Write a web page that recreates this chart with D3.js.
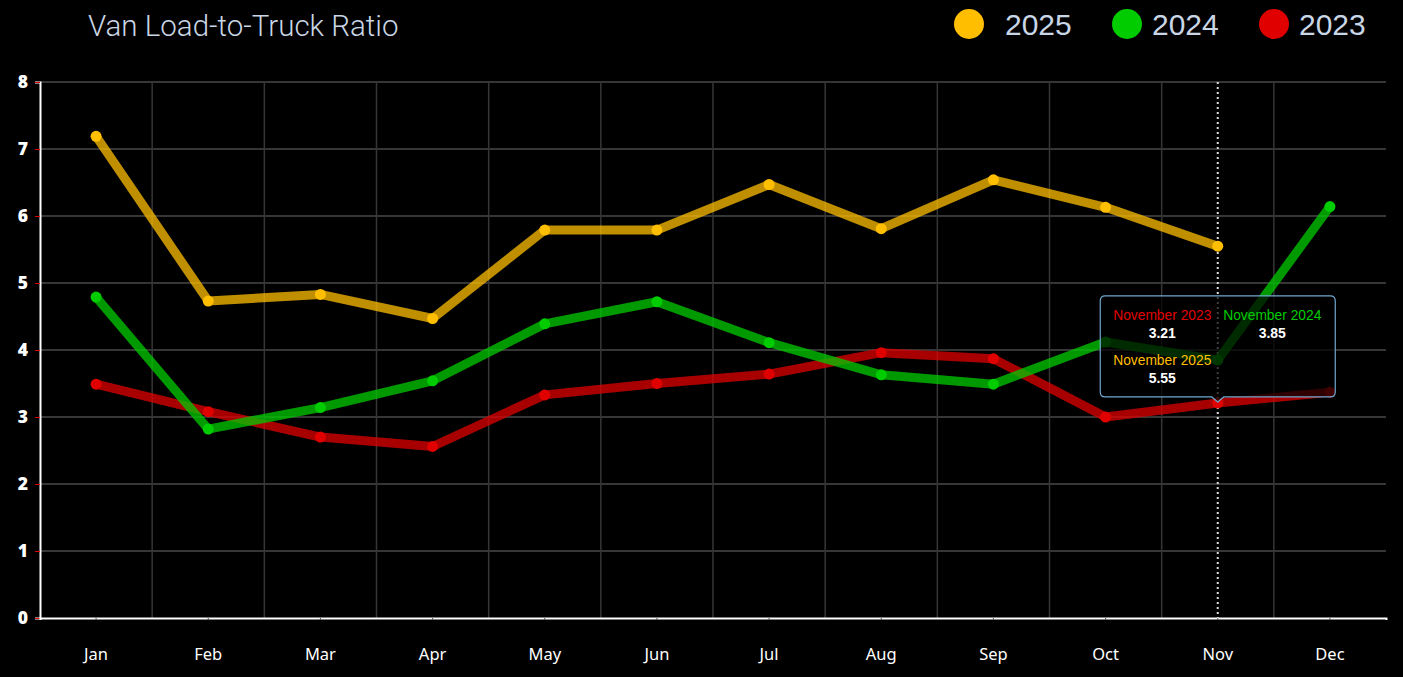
<!DOCTYPE html>
<html>
<head>
<meta charset="utf-8">
<script src="https://cdn.jsdelivr.net/npm/d3@7"></script>
<style>
  html, body { margin: 0; padding: 0; background: #000; }
  svg { display: block; }
</style>
</head>
<body>
<div id="chart"></div>
<script>
// chart data
var months = ["Jan", "Feb", "Mar", "Apr", "May", "Jun", "Jul", "Aug", "Sep", "Oct", "Nov", "Dec"];
var monthNames = ["January", "February", "March", "April", "May", "June", "July", "August", "September", "October", "November", "December"];
var values2025 = [7.19, 4.73, 4.83, 4.47, 5.79, 5.79, 6.47, 5.81, 6.54, 6.13, 5.55, null];
var values2024 = [4.79, 2.82, 3.14, 3.54, 4.39, 4.72, 4.11, 3.63, 3.49, 4.12, 3.85, 6.14];
var values2023 = [3.49, 3.08, 2.70, 2.56, 3.33, 3.50, 3.64, 3.96, 3.87, 3.00, 3.21, 3.37];
var yTicks = [0, 1, 2, 3, 4, 5, 6, 7, 8];
var years = ["2025", "2024", "2023"];
var colors = { "2025": "#ffbf00", "2024": "#00cc00", "2023": "#e00000" };
var hoverMonth = "Nov";

var series = [
  { year: "2023", values: values2023 },
  { year: "2024", values: values2024 },
  { year: "2025", values: values2025 }
];

var w = 1403, h = 677;
var plotLeft = 40, plotRight = 1386, plotTop = 82, plotBottom = 618;

var svg = d3.select("#chart").append("svg")
  .attr("width", w)
  .attr("height", h);

var x = d3.scaleBand().domain(months).range([plotLeft, plotRight]);
var y = d3.scaleLinear().domain([0, 8]).range([plotBottom, plotTop]);
function cx(m) { return x(m) + x.bandwidth() / 2; }

// title
svg.append("text")
  .attr("x", 88).attr("y", 36)
  .attr("fill", "#c9d6e6")
  .style("font-family", "Roboto, sans-serif")
  .style("font-weight", 300)
  .style("font-size", "29.5px")
  .text("Van Load-to-Truck Ratio");

// legend
var legendX = [969, 1127, 1274];
var legendGap = [36, 25, 25];
var legend = svg.selectAll(".legend")
  .data(years)
  .enter().append("g")
  .attr("transform", function (d, i) { return "translate(" + legendX[i] + ",24)"; });
legend.append("circle")
  .attr("r", 15)
  .attr("fill", function (d) { return colors[d]; });
legend.append("text")
  .attr("x", function (d, i) { return legendGap[i]; })
  .attr("y", 11)
  .attr("fill", "#c9d6e6")
  .style("font-family", "'Liberation Sans', Arial, sans-serif")
  .style("font-size", "30px")
  .text(function (d) { return d; });

// gridlines
svg.append("g").selectAll("line")
  .data(yTicks.slice(1))
  .enter().append("line")
  .attr("x1", plotLeft).attr("x2", plotRight)
  .attr("y1", function (d) { return y(d); })
  .attr("y2", function (d) { return y(d); })
  .attr("stroke", "#363636")
  .attr("stroke-width", 2);

svg.append("g").selectAll("line")
  .data(months.slice(1))
  .enter().append("line")
  .attr("x1", function (d) { return x(d); })
  .attr("x2", function (d) { return x(d); })
  .attr("y1", plotTop).attr("y2", plotBottom)
  .attr("stroke", "#363636")
  .attr("stroke-width", 1.5);

// y axis
var yAxis = svg.append("g")
  .attr("transform", "translate(" + plotLeft + ",0)")
  .call(d3.axisLeft(y).tickValues(yTicks).tickSize(5).tickPadding(7));
yAxis.select(".domain").attr("stroke", "#fff").attr("stroke-width", 2);
yAxis.selectAll(".tick line").attr("stroke", "#e00000");
yAxis.selectAll(".tick text")
  .attr("fill", "#fff")
  .style("font-family", "'Open Sans', sans-serif")
  .style("font-weight", 800)
  .style("font-size", "17.5px");

// x axis
var xAxis = svg.append("g")
  .attr("transform", "translate(0," + plotBottom + ")")
  .call(d3.axisBottom(x).tickSize(2).tickPadding(28));
xAxis.select(".domain").attr("stroke", "#fff").attr("stroke-width", 2);
xAxis.selectAll(".tick line").attr("stroke", "#555");
xAxis.selectAll(".tick text")
  .attr("fill", "#fff")
  .style("font-family", "'Noto Sans', sans-serif")
  .style("font-size", "16.5px");

// crosshair for the hovered month
svg.append("line")
  .attr("x1", cx(hoverMonth)).attr("x2", cx(hoverMonth))
  .attr("y1", plotTop).attr("y2", plotBottom)
  .attr("stroke", "#ddd")
  .attr("stroke-width", 2)
  .attr("stroke-dasharray", "2,3");

// lines and points
var line = d3.line()
  .defined(function (d) { return d.v != null; })
  .x(function (d) { return cx(d.m); })
  .y(function (d) { return y(d.v); });

series.forEach(function (s) {
  var pts = s.values.map(function (v, i) { return { m: months[i], v: v }; });
  svg.append("path")
    .datum(pts)
    .attr("d", line)
    .attr("fill", "none")
    .attr("stroke", colors[s.year])
    .attr("stroke-opacity", 0.75)
    .attr("stroke-width", 9)
    .attr("stroke-linecap", "round")
    .attr("stroke-linejoin", "round");
  svg.append("g").selectAll("circle")
    .data(pts.filter(function (d) { return d.v != null; }))
    .enter().append("circle")
    .attr("cx", function (d) { return cx(d.m); })
    .attr("cy", function (d) { return y(d.v); })
    .attr("r", 5.5)
    .attr("fill", colors[s.year]);
});

// tooltip
var hi = months.indexOf(hoverMonth);
var tipX = cx(hoverMonth), tipY = y(values2023[hi]);
var boxW = 235, boxH = 101;
var bx = tipX - boxW / 2, by = tipY - 6 - boxH;
var r = 5;
var tipPath = "M" + (bx + r) + "," + by +
  "H" + (bx + boxW - r) + "Q" + (bx + boxW) + "," + by + " " + (bx + boxW) + "," + (by + r) +
  "V" + (by + boxH - r) + "Q" + (bx + boxW) + "," + (by + boxH) + " " + (bx + boxW - r) + "," + (by + boxH) +
  "H" + (tipX + 6) + "L" + tipX + "," + (tipY - 1) + "L" + (tipX - 6) + "," + (by + boxH) +
  "H" + (bx + r) + "Q" + bx + "," + (by + boxH) + " " + bx + "," + (by + boxH - r) +
  "V" + (by + r) + "Q" + bx + "," + by + " " + (bx + r) + "," + by + "Z";
svg.append("path")
  .attr("d", tipPath)
  .attr("fill", "rgba(0,0,0,0.72)")
  .attr("stroke", "#6fa8cf")
  .attr("stroke-width", 1.2);

var tipItems = [
  { year: "2023", v: values2023[hi], col: 0, row: 0 },
  { year: "2024", v: values2024[hi], col: 1, row: 0 },
  { year: "2025", v: values2025[hi], col: 0, row: 1 }
];
var tip = svg.append("g").selectAll("g")
  .data(tipItems)
  .enter().append("g")
  .attr("transform", function (d) {
    return "translate(" + (bx + 62 + d.col * 110) + "," + (by + 24 + d.row * 45) + ")";
  });
tip.append("text")
  .attr("text-anchor", "middle")
  .attr("fill", function (d) { return colors[d.year]; })
  .style("font-family", "'Liberation Sans', Arial, sans-serif")
  .style("font-size", "13.8px")
  .text(function (d) { return monthNames[hi] + " " + d.year; });
tip.append("text")
  .attr("text-anchor", "middle")
  .attr("y", 18)
  .attr("fill", "#fff")
  .style("font-family", "'Liberation Sans', Arial, sans-serif")
  .style("font-weight", 700)
  .style("font-size", "14px")
  .text(function (d) { return d.v.toFixed(2); });
</script>
</body>
</html>
